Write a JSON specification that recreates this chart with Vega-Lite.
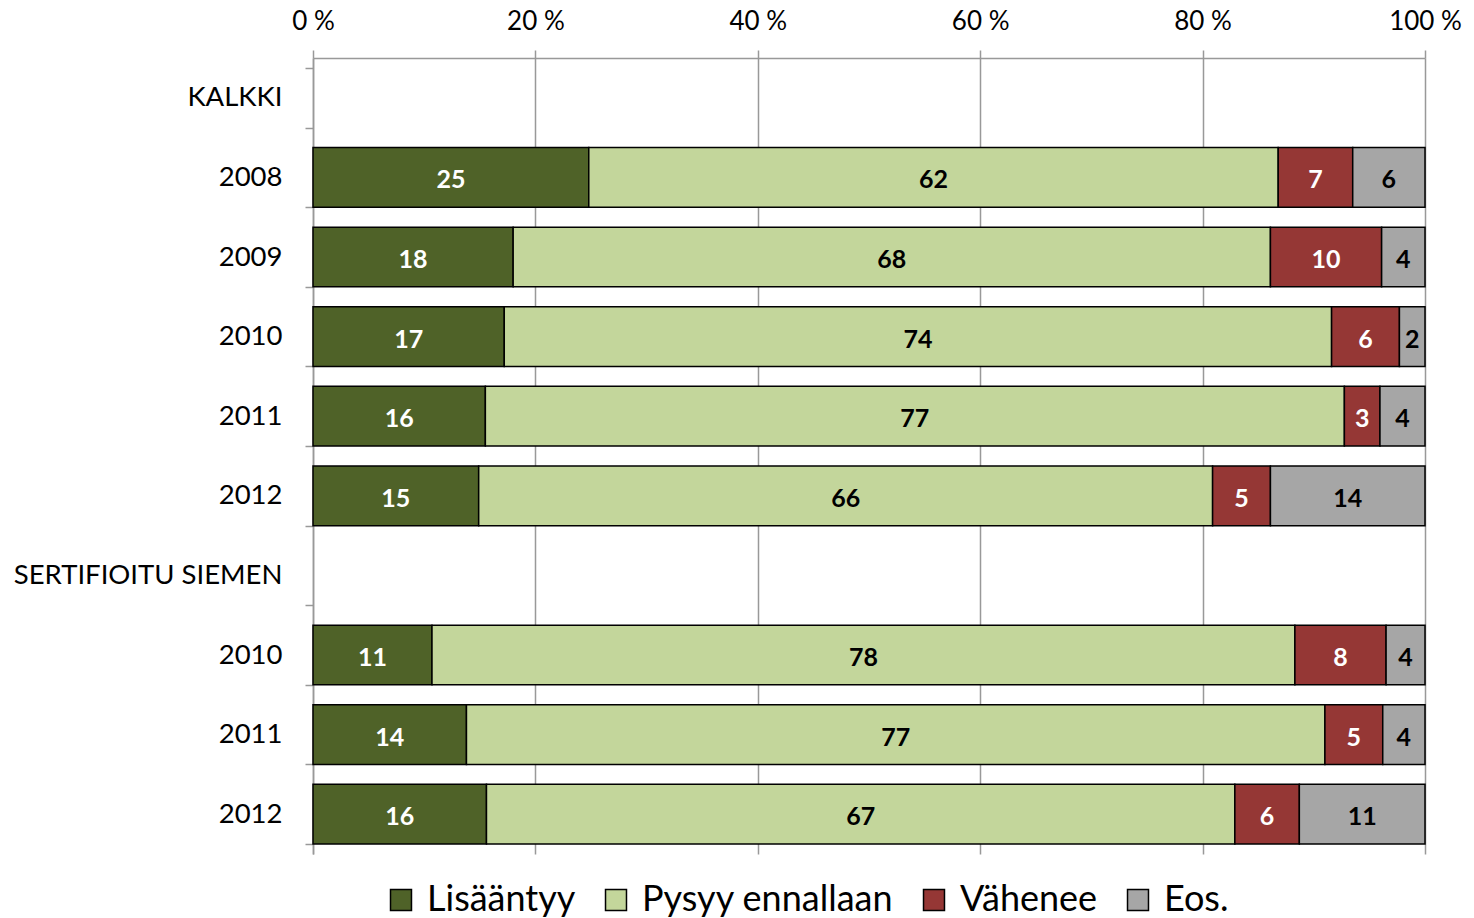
{
  "$schema": "https://vega.github.io/schema/vega-lite/v6.json",
  "width": 1112,
  "height": 796,
  "autosize": {"type": "none"},
  "padding": {"left": 313, "top": 58, "right": 49, "bottom": 64},
  "background": "white",
  "config": {
    "view": {"stroke": null},
    "font": "Lato",
    "axis": {"labelFont": "Lato", "labelColor": "black"}
  },
  "data": {
    "values": [
      {"row": "2008", "cat": "Lisääntyy", "n": 1, "value": 24.8, "label": "25"},
      {"row": "2008", "cat": "Pysyy ennallaan", "n": 2, "value": 62.0, "label": "62"},
      {"row": "2008", "cat": "Vähenee", "n": 3, "value": 6.7, "label": "7"},
      {"row": "2008", "cat": "Eos.", "n": 4, "value": 6.5, "label": "6"},
      {"row": "2009", "cat": "Lisääntyy", "n": 1, "value": 18.0, "label": "18"},
      {"row": "2009", "cat": "Pysyy ennallaan", "n": 2, "value": 68.1, "label": "68"},
      {"row": "2009", "cat": "Vähenee", "n": 3, "value": 10.0, "label": "10"},
      {"row": "2009", "cat": "Eos.", "n": 4, "value": 3.9, "label": "4"},
      {"row": "2010", "cat": "Lisääntyy", "n": 1, "value": 17.2, "label": "17"},
      {"row": "2010", "cat": "Pysyy ennallaan", "n": 2, "value": 74.4, "label": "74"},
      {"row": "2010", "cat": "Vähenee", "n": 3, "value": 6.1, "label": "6"},
      {"row": "2010", "cat": "Eos.", "n": 4, "value": 2.3, "label": "2"},
      {"row": "2011", "cat": "Lisääntyy", "n": 1, "value": 15.5, "label": "16"},
      {"row": "2011", "cat": "Pysyy ennallaan", "n": 2, "value": 77.25, "label": "77"},
      {"row": "2011", "cat": "Vähenee", "n": 3, "value": 3.2, "label": "3"},
      {"row": "2011", "cat": "Eos.", "n": 4, "value": 4.05, "label": "4"},
      {"row": "2012", "cat": "Lisääntyy", "n": 1, "value": 14.9, "label": "15"},
      {"row": "2012", "cat": "Pysyy ennallaan", "n": 2, "value": 66.0, "label": "66"},
      {"row": "2012", "cat": "Vähenee", "n": 3, "value": 5.2, "label": "5"},
      {"row": "2012", "cat": "Eos.", "n": 4, "value": 13.9, "label": "14"},
      {"row": "S2010", "cat": "Lisääntyy", "n": 1, "value": 10.7, "label": "11"},
      {"row": "S2010", "cat": "Pysyy ennallaan", "n": 2, "value": 77.6, "label": "78"},
      {"row": "S2010", "cat": "Vähenee", "n": 3, "value": 8.2, "label": "8"},
      {"row": "S2010", "cat": "Eos.", "n": 4, "value": 3.5, "label": "4"},
      {"row": "S2011", "cat": "Lisääntyy", "n": 1, "value": 13.8, "label": "14"},
      {"row": "S2011", "cat": "Pysyy ennallaan", "n": 2, "value": 77.2, "label": "77"},
      {"row": "S2011", "cat": "Vähenee", "n": 3, "value": 5.2, "label": "5"},
      {"row": "S2011", "cat": "Eos.", "n": 4, "value": 3.8, "label": "4"},
      {"row": "S2012", "cat": "Lisääntyy", "n": 1, "value": 15.6, "label": "16"},
      {"row": "S2012", "cat": "Pysyy ennallaan", "n": 2, "value": 67.3, "label": "67"},
      {"row": "S2012", "cat": "Vähenee", "n": 3, "value": 5.8, "label": "6"},
      {"row": "S2012", "cat": "Eos.", "n": 4, "value": 11.3, "label": "11"}
    ]
  },
  "encoding": {
    "y": {
      "field": "row",
      "type": "nominal",
      "title": null,
      "scale": {
        "domain": ["KALKKI", "2008", "2009", "2010", "2011", "2012", "SERTIFIOITU SIEMEN", "S2010", "S2011", "S2012"],
        "paddingInner": 0.25,
        "paddingOuter": 0.125
      },
      "axis": {
        "labelExpr": "replace(datum.label, 'S2', '2')",
        "labelFontSize": 27.5,
        "labelPadding": 23,
        "tickSize": 8,
        "tickBand": "extent",
        "tickColor": "#999999",
        "tickWidth": 1.5,
        "domainColor": "#999999",
        "domainWidth": 1.5,
        "labelLimit": 400
      }
    },
    "x": {
      "field": "value",
      "type": "quantitative",
      "stack": "normalize",
      "title": null,
      "scale": {"domain": [0, 1]},
      "axis": {
        "orient": "top",
        "values": [0, 0.2, 0.4, 0.6, 0.8, 1],
        "labelExpr": "round(datum.value * 100) + ' %'",
        "labelFontSize": 26,
        "labelFlush": false,
        "labelPadding": 16,
        "tickSize": 8,
        "tickColor": "#999999",
        "tickWidth": 1.5,
        "domainColor": "#999999",
        "domainWidth": 1.5,
        "grid": true,
        "gridColor": "#999999",
        "gridWidth": 1.5
      }
    },
    "order": {"field": "n", "type": "quantitative"}
  },
  "layer": [
    {
      "mark": {"type": "bar", "stroke": "black", "strokeWidth": 1.5},
      "encoding": {
        "color": {
          "field": "cat",
          "type": "nominal",
          "sort": ["Lisääntyy", "Pysyy ennallaan", "Vähenee", "Eos."],
          "scale": {
            "domain": ["Lisääntyy", "Pysyy ennallaan", "Vähenee", "Eos."],
            "range": ["#4F6228", "#C3D69B", "#953735", "#A6A6A6"]
          },
          "legend": {
            "title": null,
            "orient": "none",
            "direction": "horizontal",
            "legendX": 70,
            "legendY": 824,
            "symbolType": "square",
            "symbolSize": 440,
            "symbolStrokeColor": "black",
            "symbolStrokeWidth": 1.5,
            "symbolOpacity": 1,
            "labelFontSize": 36,
            "labelFont": "Lato",
            "labelColor": "black",
            "labelLimit": 500,
            "columnPadding": 22,
            "labelOffset": 8
          }
        }
      }
    },
    {
      "mark": {"type": "text", "fontSize": 25, "fontWeight": "bold", "font": "Lato", "baseline": "middle", "align": "center", "dy": 3},
      "encoding": {
        "x": {"field": "value", "type": "quantitative", "stack": "normalize", "bandPosition": 0.5},
        "text": {"field": "label", "type": "nominal"},
        "color": {
          "condition": {"test": "datum.cat === 'Lisääntyy' || datum.cat === 'Vähenee'", "value": "white"},
          "value": "black"
        }
      }
    }
  ]
}
